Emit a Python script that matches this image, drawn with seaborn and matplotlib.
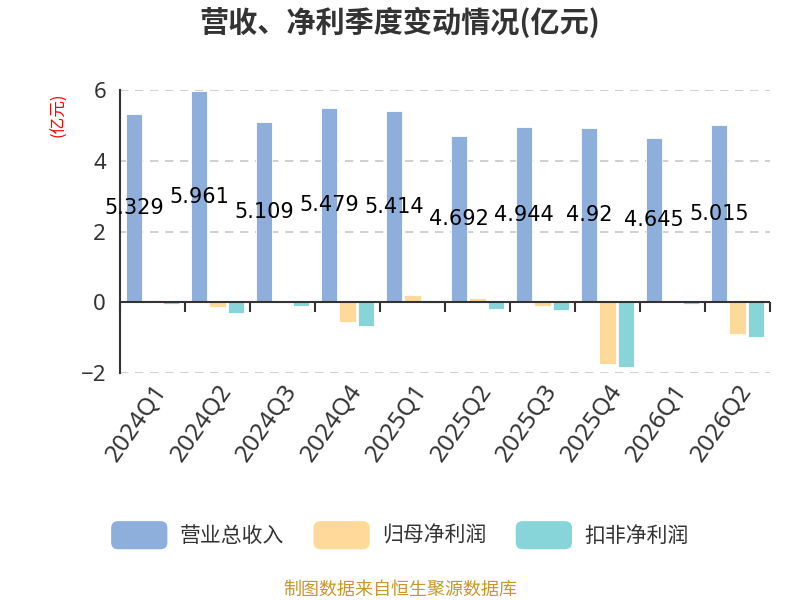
import matplotlib
matplotlib.use("Agg")
import matplotlib.pyplot as plt
import seaborn as sns
import pandas as pd
from matplotlib.patches import FancyBboxPatch, Patch
from matplotlib.legend_handler import HandlerPatch

quarters = ["2024Q1", "2024Q2", "2024Q3", "2024Q4", "2025Q1",
            "2025Q2", "2025Q3", "2025Q4", "2026Q1", "2026Q2"]
revenue = [5.329, 5.961, 5.109, 5.479, 5.414, 4.692, 4.944, 4.92, 4.645, 5.015]
net_profit = [0.08, -0.14, -0.01, -0.54, 0.20, 0.13, -0.09, -1.73, 0.02, -0.88]
deducted_profit = [-0.05, -0.30, -0.11, -0.68, -0.02, -0.19, -0.22, -1.82, -0.05, -0.98]
series_names = ["营业总收入", "归母净利润", "扣非净利润"]
colors = ["#8eafdc", "#fed999", "#88d5d9"]

df = pd.DataFrame({"季度": quarters, series_names[0]: revenue,
                   series_names[1]: net_profit, series_names[2]: deducted_profit})
long = df.melt(id_vars="季度", var_name="系列", value_name="值")

sns.set_theme(style="white")
plt.rcParams['font.family'] = ['Noto Sans CJK SC', 'DejaVu Sans']

fig = plt.figure(figsize=(8, 6), dpi=100)
ax = fig.add_axes([0.15, 0.378, 0.8125, 0.472])

sns.barplot(data=long, x="季度", y="值", hue="系列", hue_order=series_names,
            palette=colors, width=0.84, gap=0.1, ax=ax, legend=False,
            edgecolor="white", linewidth=0.6, saturation=1)

ax.set_xlim(-0.5, len(quarters) - 0.5)
ax.set_ylim(-2, 6)
ax.set_yticks([-2, 0, 2, 4, 6])
ax.set_xlabel("")
ax.set_ylabel("")
for y in [-2, 2, 4, 6]:
    ax.axhline(y, color="#c8c8c8", linestyle=(0, (5, 4)), linewidth=1.2, zorder=0)
ax.axhline(0, color="#333333", linewidth=1.5, zorder=3)

for s in ["top", "right", "bottom"]:
    ax.spines[s].set_visible(False)
ax.spines["left"].set_color("#333333")
ax.spines["left"].set_linewidth(1.5)
ax.tick_params(axis="y", direction="out", length=7, width=1.5, color="#333333",
               labelsize=16, labelcolor="#333333", pad=3)
ax.tick_params(axis="x", length=0, labelsize=17.5, labelcolor="#333333", pad=5)
for lab in ax.get_yticklabels():
    lab.set_family(['Noto Sans', 'DejaVu Sans'])
for lab in ax.get_xticklabels():
    lab.set_rotation(55)
    lab.set_ha("right")
    lab.set_rotation_mode("anchor")
    lab.set_family(['Noto Sans', 'DejaVu Sans'])

# boundary ticks on the zero line
sec = ax.secondary_xaxis(2 / 8)
sec.spines["bottom"].set_visible(False)
sec.set_xticks([i + 0.5 for i in range(-1, len(quarters))])
sec.set_xticklabels([])
sec.tick_params(axis="x", direction="out", length=7, width=1.5, color="#333333")

# value labels centered on the revenue bars
rev_bars = ax.containers[0]
for bar, v in zip(rev_bars, revenue):
    ax.text(bar.get_x() + bar.get_width() / 2, v / 2, f"{v:g}", ha="center",
            va="center", fontsize=15, color="black",
            family=['DejaVu Sans'], zorder=5)

fig.text(0.5, 0.962, "营收、净利季度变动情况(亿元)", ha="center", va="center",
         fontsize=21, fontweight="bold", color="#333333")
fig.text(0.074, 0.808, "(亿元)", ha="center", va="center", rotation=90,
         fontsize=12, color="red")
fig.text(0.5, 0.017, "制图数据来自恒生聚源数据库", ha="center", va="center",
         fontsize=13, color="#c9952c")


class RoundHandler(HandlerPatch):
    def create_artists(self, legend, orig_handle, xdescent, ydescent, width,
                       height, fontsize, trans):
        p = FancyBboxPatch((-xdescent, -ydescent), width, height,
                           boxstyle="round,pad=0,rounding_size=5",
                           facecolor=orig_handle.get_facecolor(),
                           edgecolor="none", transform=trans)
        return [p]


handles = [Patch(facecolor=c, label=n) for c, n in zip(colors, series_names)]
fig.legend(handles=handles, loc="center", bbox_to_anchor=(0.5, 0.108), ncol=3,
           frameon=False, fontsize=15, handlelength=2.7, handleheight=1.7,
           columnspacing=1.4, handletextpad=0.6, labelcolor="#333333",
           handler_map={Patch: RoundHandler()})

fig.savefig("out.png", dpi=100)
